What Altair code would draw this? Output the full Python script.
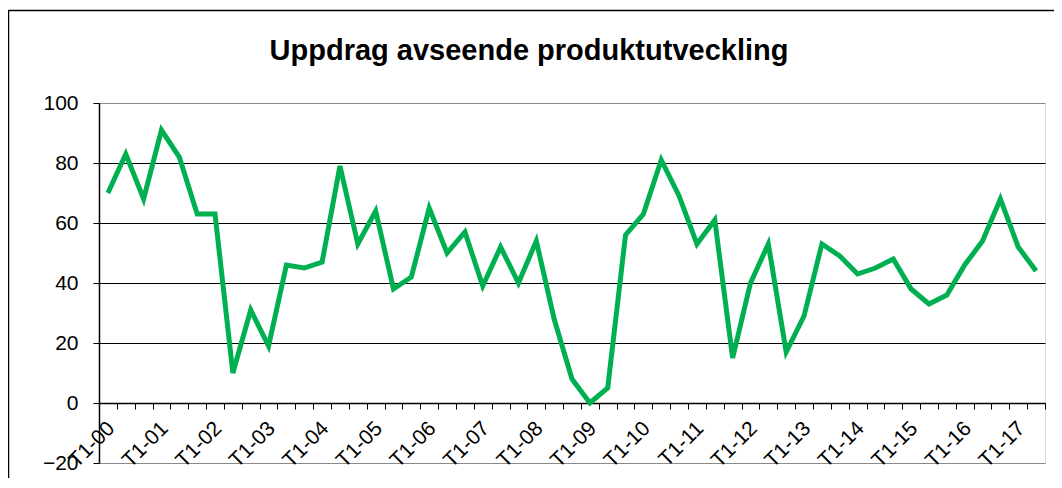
import altair as alt
import pandas as pd

# --- data -------------------------------------------------------------
years = [f"{y:02d}" for y in range(0, 18)]
tertials = ["T1", "T2", "T3"]
periods = [f"{t}-{y}" for y in years for t in tertials][:53]

values = [70, 83, 68, 91, 82, 63, 63, 10, 31, 19,
          46, 45, 47, 79, 53, 64, 38, 42, 65, 50,
          57, 39, 52, 40, 54, 28, 8, 0, 5, 56,
          63, 81, 69, 53, 61, 15, 40, 53, 17, 29,
          53, 49, 43, 45, 48, 38, 33, 36, 46, 54,
          68, 52, 44]

y_ticks = [-20, 0, 20, 40, 60, 80, 100]
title_text = "Uppdrag avseende produktutveckling"

df = pd.DataFrame({"period": periods, "value": values})
deco_df = pd.DataFrame({"title": [title_text]})

FONT = "Liberation Sans"

x_enc = alt.X(
    "period:N",
    sort=periods,
    scale=alt.Scale(type="band", paddingInner=0, paddingOuter=0),
    axis=alt.Axis(
        title=None,
        offset=-60,
        tickBand="extent",
        tickSize=6,
        tickColor="black",
        tickWidth=1,
        domainColor="black",
        domainWidth=1.5,
        labelAngle=-45,
        labelAlign="right",
        labelBaseline="middle",
        labelPadding=16,
        labelOffset=3,
        labelFont=FONT,
        labelFontSize=21,
        labelColor="black",
        labelOverlap=False,
        labelExpr="indexof(datum.label, 'T1') == 0 ? datum.label : ''",
        grid=False,
    ),
)

y_enc = alt.Y(
    "value:Q",
    scale=alt.Scale(domain=[-20, 100], nice=False, zero=False),
    axis=alt.Axis(
        title=None,
        values=y_ticks,
        grid=True,
        gridColor={
            "condition": {"test": "datum.value === 100 || datum.value === -20", "value": "#8a8a8a"},
            "value": "black",
        },
        gridWidth=1,
        domainColor="black",
        domainWidth=1.5,
        tickColor="black",
        tickSize=6,
        tickWidth=1,
        labelFont=FONT,
        labelFontSize=21,
        labelColor="black",
        labelPadding=15,
    ),
)

line = alt.Chart(df).mark_line(
    color="#00B050", strokeWidth=5, strokeJoin="miter", strokeCap="butt"
).encode(x=x_enc, y=y_enc)

frame = alt.Chart(deco_df).mark_rect(
    filled=False, stroke="black", strokeWidth=1.5
).encode(
    x=alt.value(-90.5),
    x2=alt.value(1000),
    y=alt.value(-92.5),
    y2=alt.value(420),
)

title = alt.Chart(deco_df).mark_text(
    font=FONT, fontSize=29, fontWeight="bold", color="black",
    align="center", baseline="alphabetic",
).encode(
    text="title:N",
    x=alt.value(430),
    y=alt.value(-43),
)

chart = alt.layer(frame, title, line).properties(
    width=946,
    height=360,
    autosize=alt.AutoSizeParams(type="none"),
    padding={"left": 91, "top": 95, "right": 9, "bottom": 15},
).configure_view(
    stroke="#8a8a8a", strokeWidth=2
).configure(background="white")

chart.save("out.html", embed_options={"renderer": "svg", "actions": False})
